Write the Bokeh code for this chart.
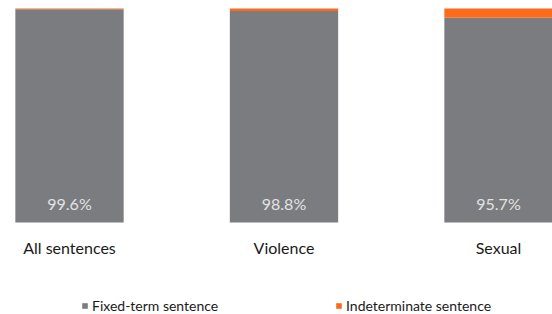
from bokeh.plotting import figure
from bokeh.models import ColumnDataSource, Range1d, Legend, LegendItem, LabelSet
from bokeh.core.properties import value
from bokeh.embed import file_html
from bokeh.resources import INLINE

categories = ["All sentences", "Violence", "Sexual"]
fixed_term = [99.6, 98.8, 95.7]
indeterminate = [0.4, 1.2, 4.3]
pct_labels = ["99.6%", "98.8%", "95.7%"]
series_names = ["Fixed-term sentence", "Indeterminate sentence"]

GRAY = "#7b7c80"
ORANGE = "#fc6b1b"
FONT = "Lato"

W, H = 552, 314
PX_PER_X = 214.5
PX_PER_Y = 2.14
X0_PX = 69      # pixel position of first category centre
TOP_PX = 8      # pixel position of the 100% line

xs = list(range(len(categories)))
src = ColumnDataSource(dict(
    x=xs, fixed=fixed_term, indet=indeterminate,
    lab=pct_labels, cat=categories, zero=[0] * len(xs),
))

x_start = -X0_PX / PX_PER_X
y_end = 100 + TOP_PX / PX_PER_Y
y_start = y_end - H / PX_PER_Y

p = figure(width=W, height=H, output_backend="svg", toolbar_location=None,
           x_range=Range1d(x_start, x_start + W / PX_PER_X),
           y_range=Range1d(y_start, y_end),
           min_border=0, x_axis_location=None, y_axis_location=None)
p.outline_line_color = None
p.xgrid.visible = False
p.ygrid.visible = False

r = p.vbar_stack(["fixed", "indet"], x="x", width=0.505, source=src,
                 color=[GRAY, ORANGE], line_color=None)

pct = LabelSet(x="x", y="zero", text="lab", source=src, y_offset=19,
               text_align="center", text_baseline="middle",
               text_font=value(FONT), text_font_size=value("16px"),
               text_color=value("#e2e2e2"))
p.add_layout(pct)

cats = LabelSet(x="x", y="zero", text="cat", source=src, y_offset=-25,
                text_align="center", text_baseline="middle",
                text_font=value(FONT), text_font_size=value("16px"),
                text_color=value("#1a1a1a"))
p.add_layout(cats)

def make_legend(item_idx, xloc, yloc):
    return Legend(items=[LegendItem(label=series_names[item_idx], renderers=[r[item_idx]])],
                  location=(xloc, yloc), orientation="horizontal",
                  glyph_width=7, glyph_height=7, label_standoff=4,
                  label_height=12, padding=0, margin=0, spacing=0,
                  border_line_color=None, background_fill_alpha=0,
                  label_text_font=FONT, label_text_font_size="14px",
                  label_text_color="#1a1a1a")

p.add_layout(make_legend(0, 81, 0))
p.add_layout(make_legend(1, 335, 0))

open("out.html", "w").write(file_html(p, INLINE))
